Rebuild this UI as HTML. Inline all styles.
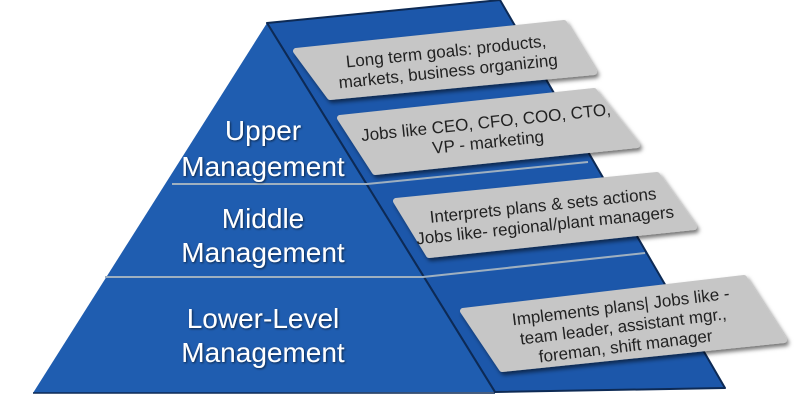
<!DOCTYPE html>
<html><head><meta charset="utf-8"><style>
html,body{margin:0;padding:0;background:#fff;}
svg{display:block}
text{font-family:"Liberation Sans Narrow","Liberation Sans",sans-serif;}
</style></head><body>
<svg width="800" height="400" viewBox="0 0 800 400" xmlns="http://www.w3.org/2000/svg">
<defs>
<filter id="sh" x="-10%" y="-20%" width="130%" height="150%"><feDropShadow dx="2" dy="3" stdDeviation="2" flood-color="#000" flood-opacity="0.55"/></filter>
<filter id="ts" x="-10%" y="-20%" width="130%" height="150%"><feDropShadow dx="1" dy="1" stdDeviation="1" flood-color="#000" flood-opacity="0.6"/></filter>
</defs>
<!-- right face -->
<polygon points="267,23 500,0 725,388 495,392" fill="#1c57aa" stroke="#0d2a55" stroke-width="2" stroke-linejoin="round"/>
<!-- front face -->
<polygon points="267,23 495,392 33,393" fill="#1f5db0"/>
<line x1="267" y1="23" x2="495" y2="392" stroke="#0d2a55" stroke-width="2"/>
<line x1="33" y1="393" x2="495" y2="393" stroke="#0d2a55" stroke-width="1.5"/>
<!-- divider lines -->
<polyline points="172,184 367,184 588,162" fill="none" stroke="#9fb0c0" stroke-width="2"/>
<polyline points="105,277 423,277 645,253" fill="none" stroke="#9fb0c0" stroke-width="2"/>
<!-- labels -->
<g fill="#fff" font-size="28" text-anchor="middle" filter="url(#ts)">
<text x="263" y="140">Upper</text>
<text x="263" y="176">Management</text>
<text x="263" y="228">Middle</text>
<text x="263" y="262">Management</text>
<text x="263" y="328">Lower-Level</text>
<text x="263" y="362">Management</text>
</g>
<!-- boxes -->
<g fill="#c6c6c6" stroke="#c6c6c6" stroke-width="6" stroke-linejoin="round" filter="url(#sh)">
<polygon points="296,51 564,23 594,72 330,97"/>
<polygon points="340,118 594,91 637,145 375,172"/>
<polygon points="396,201 657,175 694,227 429,255"/>
<polygon points="463,311 744,278 784,340 502,369"/>
</g>
<g font-size="17" fill="#222" text-anchor="middle">
<g transform="translate(447,61) rotate(-6)"><text y="-4">Long term goals: products,</text><text y="16">markets, business organizing</text></g>
<g transform="translate(487,132) rotate(-6)"><text y="-4">Jobs like CEO, CFO, COO, CTO,</text><text y="16">VP - marketing</text></g>
<g transform="translate(544,215) rotate(-6)"><text y="-4">Interprets plans &amp; sets actions</text><text y="16">Jobs like- regional/plant managers</text></g>
<g transform="translate(623,325) rotate(-7)"><text y="-13">Implements plans| Jobs like -</text><text y="7">team leader, assistant mgr.,</text><text y="27">foreman, shift manager</text></g>
</g>
</svg>
</body></html>
